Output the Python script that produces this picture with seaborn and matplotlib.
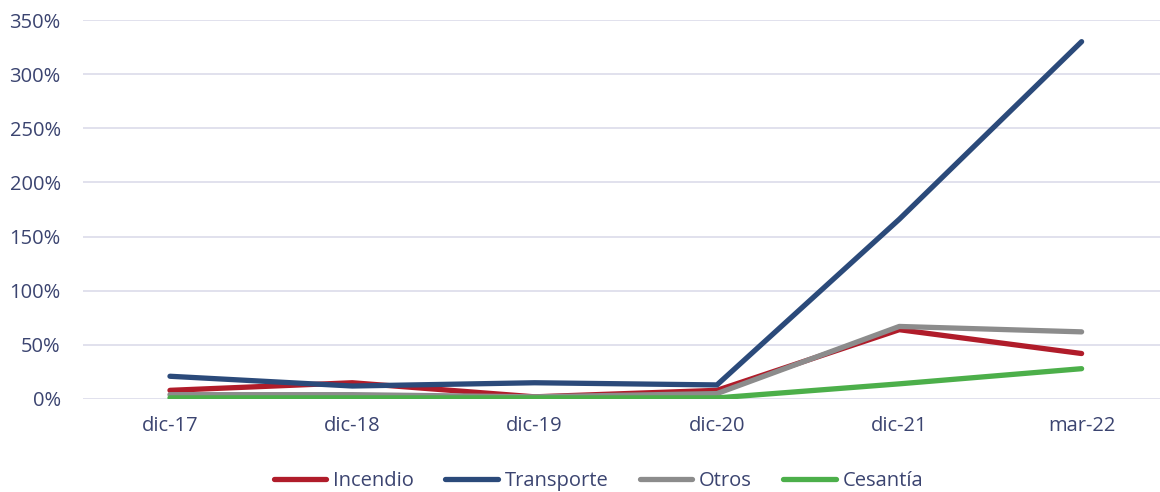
import matplotlib
matplotlib.use("Agg")
import matplotlib.pyplot as plt
import seaborn as sns
import pandas as pd
from matplotlib.ticker import FuncFormatter, MultipleLocator
from matplotlib.lines import Line2D

categories = ["dic-17", "dic-18", "dic-19", "dic-20", "dic-21", "mar-22"]
incendio = [8, 15, 2, 8, 64, 42]
transporte = [21, 12, 15, 13, 166, 330]
otros = [4, 4, 2, 5, 67, 62]
cesantia = [1, 1, 1, 1, 14, 28]

series_names = ["Incendio", "Transporte", "Otros", "Cesantía"]
series_values = [incendio, transporte, otros, cesantia]
colors = ["#b01c2a", "#2b4a7a", "#8c8c8c", "#4caf4a"]

rows = []
for name, vals in zip(series_names, series_values):
    for i, (c, v) in enumerate(zip(categories, vals)):
        rows.append({"x": i, "cat": c, "serie": name, "valor": v / 100.0})
df = pd.DataFrame(rows)

sns.set_theme(style="white")
plt.rcParams["font.family"] = ["Open Sans", "DejaVu Sans"]

fig = plt.figure(figsize=(11.6, 4.92), dpi=100)
ax = fig.add_axes([83 / 1160, 1 - 399 / 492, 1 - 83 / 1160, (399 - 20) / 492])

sns.lineplot(data=df, x="x", y="valor", hue="serie", hue_order=series_names,
             palette=colors, linewidth=3.8, ax=ax, legend=False, sort=False)
for ln in ax.get_lines():
    ln.set_solid_capstyle("round")
    ln.set_solid_joinstyle("round")

ax.set_xlim(-0.477, 5.43)
ax.set_ylim(0, 3.5)
ax.yaxis.set_major_locator(MultipleLocator(0.5))
ax.yaxis.set_major_formatter(FuncFormatter(lambda v, p: f"{v*100:.0f}%"))
ax.set_xticks(range(len(categories)))
ax.set_xticklabels(categories)
ax.grid(axis="y", color="#dcdcea", linewidth=1.2)
ax.set_axisbelow(True)
for s in ax.spines.values():
    s.set_visible(False)
ax.set_xlabel("")
ax.set_ylabel("")
ax.tick_params(axis="both", length=0, labelsize=14.5, colors="#3b4470")
ax.tick_params(axis="x", pad=12)
ax.tick_params(axis="y", pad=16)

handles = [Line2D([0], [0], color=c, linewidth=3.8, solid_capstyle="round") for c in colors]
leg = fig.legend(handles, series_names, loc="center", bbox_to_anchor=(0.516, 1 - 481 / 492),
                 ncol=4, frameon=False, fontsize=14.5, handlelength=2.6, handletextpad=0.35,
                 columnspacing=1.55, borderpad=0, borderaxespad=0)
for t in leg.get_texts():
    t.set_color("#3b4470")

fig.savefig("out.png", dpi=100)
